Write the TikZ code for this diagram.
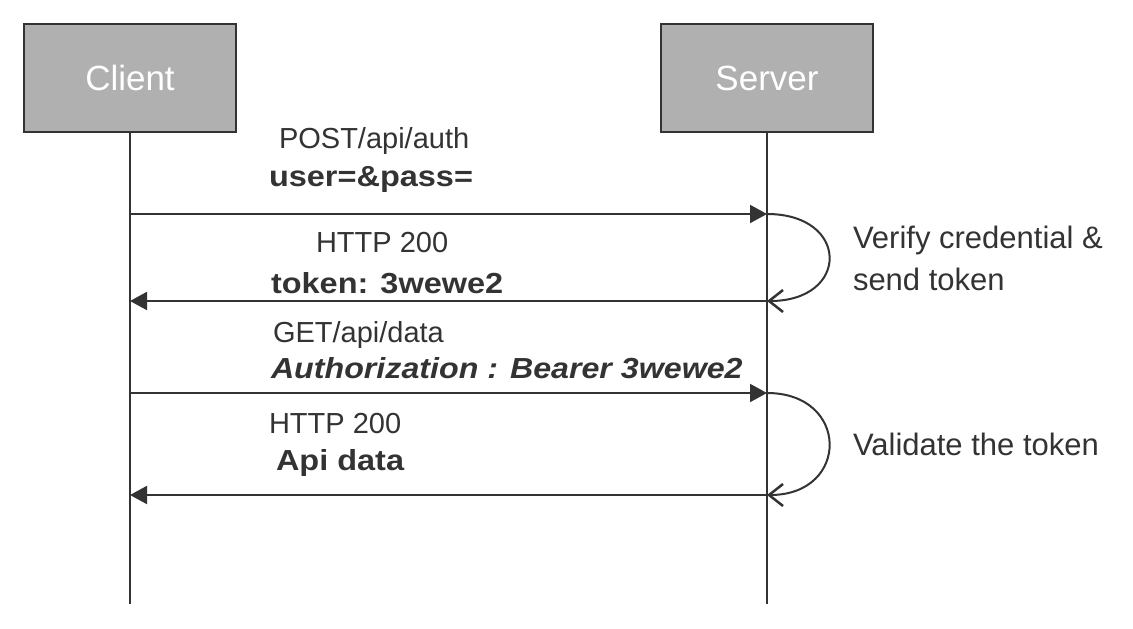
\documentclass[tikz,border=0pt]{standalone}
\usepackage{fontspec}
\setmainfont{Liberation Sans}[BoldFeatures={FakeStretch=1.12},BoldItalicFeatures={FakeStretch=1.11}]
\usepackage{tikz}
\usetikzlibrary{arrows.meta}

\definecolor{ink}{HTML}{333333}
\definecolor{boxgray}{HTML}{B0B0B0}

\begin{document}
\begin{tikzpicture}[x=1pt, y=-1pt, line width=2pt, draw=ink,
        actor/.style={draw=ink, fill=boxgray, minimum width=212pt, minimum height=108pt, inner sep=0pt,
            text=white, font=\fontsize{35}{40}\selectfont},
        msg/.style={anchor=base west, inner sep=0pt, text=ink, font=\fontsize{29}{34}\selectfont},
        note/.style={msg, font=\fontsize{31}{36}\selectfont},
        call/.style={-{Triangle[length=17pt, width=18pt]}},
        loop/.style={-{Straight Barb[length=14pt, width=22pt, line width=2.5pt]}}]
        \useasboundingbox (0,0) rectangle (1133,629);

        % actors
        \node[actor] (client) at (130, 78) {Client};
        \node[actor] (server) at (767, 78) {Server};
        \coordinate (clientend) at (130, 604);
        \coordinate (serverend) at (767, 604);
        \draw[ink] (client) -- (clientend);
        \draw[ink] (server) -- (serverend);

        % points on the lifelines
        \coordinate (c1) at (130, 214);
        \coordinate (s1) at (767, 214);
        \coordinate (c2) at (130, 301);
        \coordinate (s2) at (767, 301);
        \coordinate (c3) at (130, 393);
        \coordinate (s3) at (767, 393);
        \coordinate (c4) at (130, 495);
        \coordinate (s4) at (767, 495);

        % messages
        \draw[ink, call] (c1) -- (s1);
        \draw[ink, call] (s2) -- (c2);
        \draw[ink, call] (c3) -- (s3);
        \draw[ink, call] (s4) -- (c4);

        % server side work
        \draw[ink, loop] (s1) .. controls (850, 214) and (850, 301) .. (s2);
        \draw[ink, loop] (s3) .. controls (850, 393) and (850, 495) .. (s4);

        % labels
        \node[msg] (post) at (278, 148) {POST/api/auth};
        \node[msg] (creds) at (268, 186) {\textbf{user=\&pass=}};
        \node[msg] (ok1) at (315, 252) {HTTP 200};
        \node[msg] (token) at (270, 293) {\textbf{token: 3wewe2}};
        \node[msg] (get) at (272, 342) {GET/api/data};
        \node[msg] (bearer) at (270, 378) {\textbf{\textit{Authorization : Bearer 3wewe2}}};
        \node[msg] (ok2) at (268, 433) {HTTP 200};
        \node[msg] (data) at (275, 470) {\textbf{Api data}};
        \node[note] (verify) at (852, 248) {Verify credential \&};
        \node[note] (send) at (852, 290) {send token};
        \node[note] (check) at (852, 455) {Validate the token};
    \end{tikzpicture}
\end{document}
